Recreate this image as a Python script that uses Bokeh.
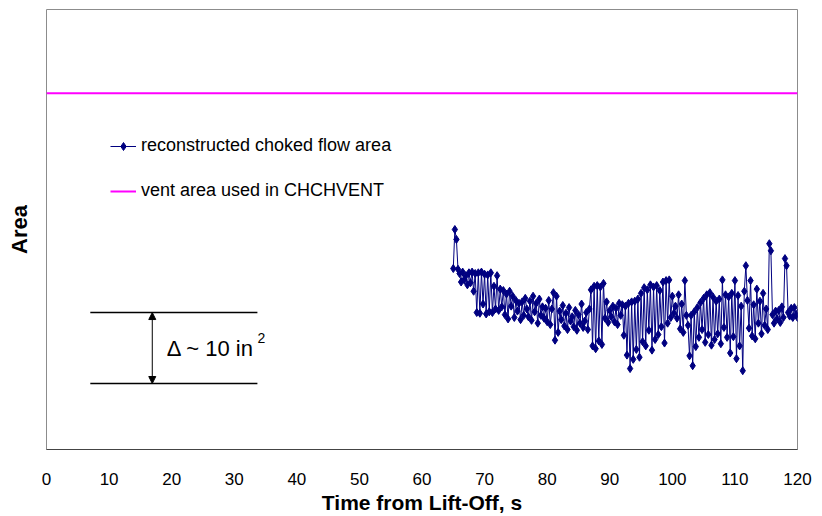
import numpy as np
from bokeh.plotting import figure
from bokeh.models import (Range1d, FixedTicker, Legend, LegendItem, Arrow,
                          NormalHead, Label, ColumnDataSource)
from bokeh.embed import file_html
from bokeh.resources import INLINE

# Reconstructed choked flow area, sampled every 0.25 s from 65.0 s
t_start = 65.0
t_step = 0.25
area = [
    55.5, 61.0, 59.6, 55.4,   54.8, 53.6, 55.0, 53.9,   54.5, 53.2, 54.9, 53.5,
    55.0, 52.3, 54.8, 49.3,   54.9, 49.2, 55.0, 50.5,   54.7, 49.1, 54.6, 49.4,
    54.9, 49.3, 53.0, 49.8,   54.5, 49.6, 52.6, 50.1,   52.4, 49.0, 51.9, 48.4,
    52.3, 50.2, 51.6, 48.6,   51.0, 49.5, 50.6, 48.3,   50.8, 48.9, 51.3, 49.8,
    48.7, 50.9, 48.2, 51.6,   49.4, 50.6, 47.8, 51.2,   48.9, 50.1, 48.5, 49.9,
    48.0, 51.0, 47.6, 49.8,   52.1, 45.4, 51.6, 46.5,   49.5, 48.3, 50.3, 47.4,
    49.2, 46.9, 50.0, 48.1,   48.7, 47.3, 49.6, 46.8,   49.0, 47.8, 50.5, 47.2,
    48.1, 49.3, 46.9, 49.8,   52.5, 44.6, 53.0, 44.2,   53.1, 45.3, 52.9, 44.8,
    53.4, 48.5, 50.8, 47.9,   49.6, 48.7, 50.2, 48.0,   49.9, 47.6, 50.6, 48.9,
    50.4, 46.1, 50.2, 43.3,   50.6, 41.4, 50.8, 42.7,   50.9, 44.1, 51.2, 43.0,
    52.0, 45.2, 52.8, 44.6,   52.5, 46.8, 53.2, 44.0,   52.9, 45.5, 53.1, 46.2,
    52.4, 47.3, 53.6, 45.0,   53.8, 47.8, 53.9, 48.6,   51.6, 49.2, 50.2, 48.5,
    51.8, 47.0, 50.5, 46.5,   53.8, 48.9, 47.5, 43.2,   48.9, 41.8, 49.4, 44.5,
    50.0, 45.8, 50.7, 46.9,   51.3, 45.1, 51.8, 46.2,   52.1, 44.7, 51.5, 45.5,
    50.9, 46.3, 51.2, 44.9,   53.9, 47.2, 51.8, 45.8,   51.5, 43.6, 52.0, 45.9,
    53.8, 42.8, 51.7, 44.6,   50.2, 41.1, 52.3, 55.9,   51.0, 47.1, 53.8, 46.0,
    50.4, 45.6, 52.6, 47.8,   50.9, 46.3, 52.0, 47.5,   49.8, 46.9, 59.0, 58.0,
    49.0, 47.8, 49.5, 48.4,   49.6, 47.9, 50.1, 48.6,   56.9, 55.9, 49.3, 48.8,
    49.9, 48.6, 50.0, 49.0,   48.6, 49.5, 50.3,
]
time = t_start + t_step * np.arange(len(area))

# Vent area used in CHCHVENT
vent_area = 80.2

# Scale bar showing a 10 in^2 difference
delta_x = [7.0, 33.7]
delta_top = 49.3
delta_bottom = 39.3
delta_arrow_x = 16.9
delta_text = "Δ ~ 10 in"
delta_sup = "2"

x_ticks = [0, 10, 20, 30, 40, 50, 60, 70, 80, 90, 100, 110, 120]
x_title = "Time from Lift-Off, s"
y_title = "Area"

FONT = "Liberation Sans"
Y_MIN, Y_MAX = 30, 92

p = figure(width=822, height=516, output_backend="svg", toolbar_location=None,
           x_range=Range1d(0, 120), y_range=Range1d(Y_MIN, Y_MAX),
           min_border_left=46, min_border_right=25, min_border_top=9,
           min_border_bottom=67)
p.grid.visible = False
p.outline_line_color = "#8c8c8c"
p.outline_line_width = 1

# x axis
xa = p.xaxis[0]
xa.ticker = FixedTicker(ticks=x_ticks)
xa.axis_line_color = "#444444"
xa.major_tick_line_color = None
xa.minor_tick_line_color = None
xa.major_tick_out = 0
xa.major_tick_in = 0
xa.minor_tick_out = 0
xa.minor_tick_in = 0
xa.major_label_standoff = 23
xa.major_label_text_font = FONT
xa.major_label_text_font_size = "17px"
xa.major_label_text_color = "black"
xa.axis_label = x_title
xa.axis_label_text_font = FONT
xa.axis_label_text_font_style = "bold"
xa.axis_label_text_font_size = "21px"
xa.axis_label_text_color = "black"
xa.axis_label_standoff = 3

# y axis: title only
ya = p.yaxis[0]
ya.axis_line_color = None
ya.major_tick_line_color = None
ya.minor_tick_line_color = None
ya.major_label_text_font_size = "0px"
ya.major_label_standoff = 0
ya.axis_label = y_title
ya.axis_label_text_font = FONT
ya.axis_label_text_font_style = "bold"
ya.axis_label_text_font_size = "22px"
ya.axis_label_text_color = "black"
ya.axis_label_standoff = 9

src = ColumnDataSource(dict(t=time, a=area))
r_line = p.line("t", "a", source=src, line_color="#000080", line_width=1)
r_pts = p.scatter("t", "a", source=src, marker="diamond", size=8,
                  fill_color="#000080", line_color="#000080")

r_vent = p.line([0, 120], [vent_area, vent_area], line_color="#ff00ff",
                line_width=2)

# scale bar
for yv in (delta_top, delta_bottom):
    p.line(delta_x, [yv, yv], line_color="black", line_width=1.5)
p.add_layout(Arrow(x_start=delta_arrow_x, y_start=delta_bottom,
                   x_end=delta_arrow_x, y_end=delta_top,
                   line_color="black", line_width=1,
                   start=NormalHead(size=7, fill_color="black", line_color="black"),
                   end=NormalHead(size=7, fill_color="black", line_color="black")))
mid = (delta_top + delta_bottom) / 2
p.add_layout(Label(x=19.2, y=mid, text=delta_text,
                   text_font=FONT, text_font_size="22px",
                   text_baseline="middle", text_color="black"))
p.add_layout(Label(x=33.7, y=mid, y_offset=10, text=delta_sup,
                   text_font=FONT, text_font_size="14px",
                   text_baseline="middle", text_color="black"))

legend = Legend(items=[
    LegendItem(label="reconstructed choked flow area", renderers=[r_line, r_pts]),
    LegendItem(label="vent area used in CHCHVENT", renderers=[r_vent]),
], location=(64, 248))
legend.padding = 0
legend.margin = 0
legend.border_line_color = None
legend.background_fill_alpha = 0
legend.glyph_width = 26
legend.glyph_height = 20
legend.label_height = 20
legend.spacing = 24
legend.label_standoff = 5
legend.label_text_font = FONT
legend.label_text_font_size = "18px"
legend.label_text_color = "black"
p.add_layout(legend)

open("out.html", "w").write(file_html(p, INLINE))
